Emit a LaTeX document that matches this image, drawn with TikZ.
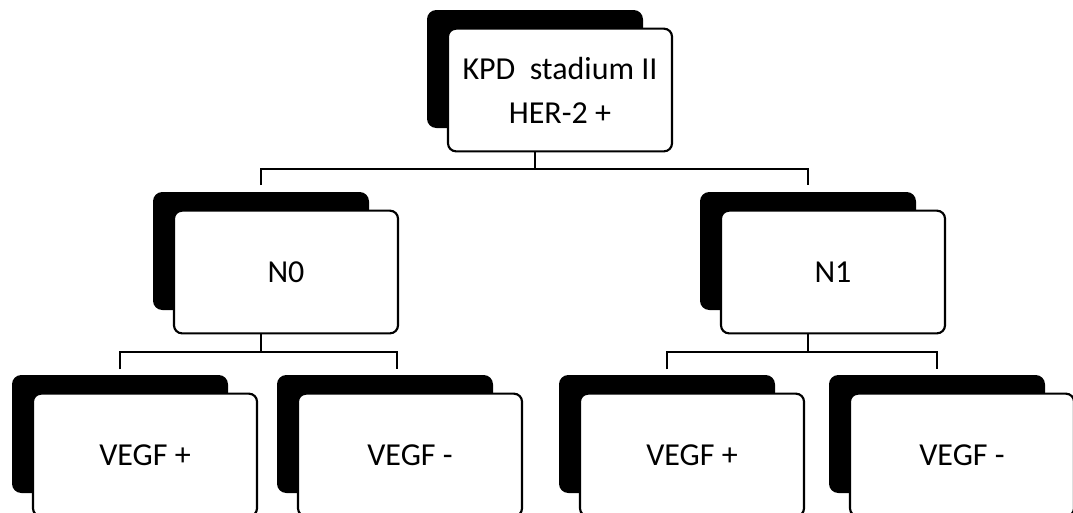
\documentclass[tikz,border=0pt]{standalone}
\usepackage{fontspec}
\setmainfont{Carlito}
\usetikzlibrary{calc,positioning}

\begin{document}
\begin{tikzpicture}[
  x=0.75pt,y=-0.75pt,
  every node/.style={font=\fontsize{24}{33}\selectfont},
  back/.style={fill=black,rounded corners=7pt,minimum width=162pt,
    minimum height=88.5pt,inner sep=0pt},
  card/.style={draw=black,line width=1.6pt,fill=white,rounded corners=6pt,
    align=center,minimum width=168pt,minimum height=92pt,inner sep=0pt},
  link/.style={line width=1.5pt,color=black}
]
\useasboundingbox (0,0) rectangle (1073,512);
\clip (0,0) rectangle (1073,512);

% top level
\node[back] (kpdb) at (535,69) {};
\node[card] (kpd) at ($(kpdb)+(25,21)$) {KPD\ \ stadium II\\HER-2 +};

% nodal status
\node[back] (nzerob) at (261,251) {};
\node[card] (nzero) at ($(nzerob)+(25,21)$) {N0};
\node[back] (noneb) at (808,251) {};
\node[card] (none) at ($(noneb)+(25,21)$) {N1};

% VEGF status
\node[back] (vposab) at (120,434) {};
\node[card] (vposa) at ($(vposab)+(25,21)$) {VEGF +};
\node[back] (vnegab) at (385,434) {};
\node[card] (vnega) at ($(vnegab)+(25,21)$) {VEGF -};
\node[back] (vposbb) at (667,434) {};
\node[card] (vposb) at ($(vposbb)+(25,21)$) {VEGF +};
\node[back] (vnegbb) at (937,434) {};
\node[card] (vnegb) at ($(vnegbb)+(25,21)$) {VEGF -};

\draw[link] (kpdb |- kpd.south) -- ++(0,17) coordinate (kpdbar);
\draw[link] ([yshift=5pt]nzerob.north) |- (kpdbar) -| ([yshift=5pt]noneb.north);

\draw[link] (nzerob |- nzero.south) -- ++(0,18) coordinate (nzerobar);
\draw[link] ([yshift=4pt]vposab.north) |- (nzerobar)
  -| ([xshift=9pt,yshift=4pt]vnegab.north);

\draw[link] (noneb |- none.south) -- ++(0,18) coordinate (nonebar);
\draw[link] ([yshift=4pt]vposbb.north) |- (nonebar) -| ([yshift=4pt]vnegbb.north);
\end{tikzpicture}
\end{document}
